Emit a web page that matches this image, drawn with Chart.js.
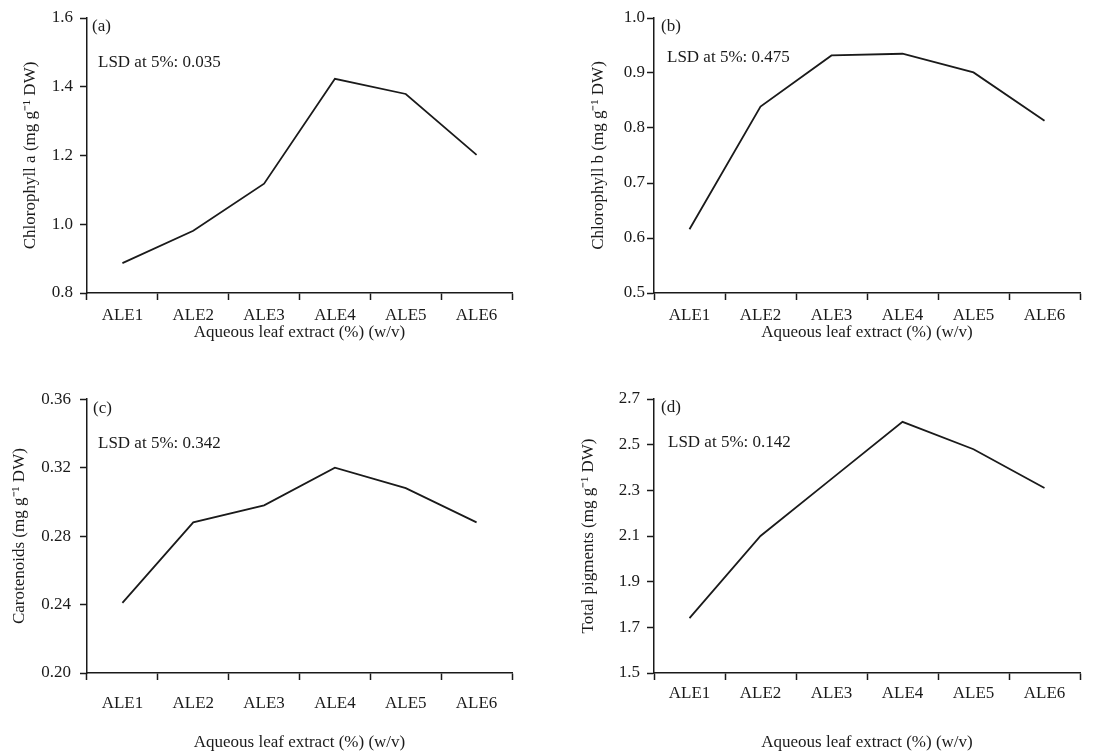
<!DOCTYPE html>
<html lang="en">
<head>
    <meta charset="UTF-8">
    <title>Pigments vs aqueous leaf extract</title>
    <script src="https://cdn.jsdelivr.net/npm/chart.js"></script>
    <style>
        html, body { margin: 0; padding: 0; background: #fff; overflow: hidden; }
        .panel { position: absolute; }
    </style>
</head>
<body>
    <div class="panel" style="left:0;top:0"><canvas id="chartA" width="540" height="355"></canvas></div>
    <div class="panel" style="left:555px;top:0"><canvas id="chartB" width="560" height="355"></canvas></div>
    <div class="panel" style="left:0;top:380px"><canvas id="chartC" width="540" height="373"></canvas></div>
    <div class="panel" style="left:555px;top:380px"><canvas id="chartD" width="560" height="373"></canvas></div>

    <script>
        // data
        const categories = ['ALE1', 'ALE2', 'ALE3', 'ALE4', 'ALE5', 'ALE6'];
        const chlorophyllA = [0.887, 0.981, 1.118, 1.423, 1.379, 1.202];
        const chlorophyllB = [0.616, 0.839, 0.932, 0.935, 0.901, 0.813];
        const carotenoids = [0.241, 0.288, 0.298, 0.320, 0.308, 0.288];
        const totalPigments = [1.74, 2.10, 2.35, 2.60, 2.48, 2.31];

        const xTitle = 'Aqueous leaf extract (%) (w/v)';
        const lsdValues = ['0.035', '0.475', '0.342', '0.142'];

        const serif = '"Liberation Serif", "Times New Roman", Times, serif';
        const black = '#1a1a1a';

        // writes the panel letter and the LSD note inside the plot area
        const panelText = {
            id: 'panelText',
            afterDraw(chart, args, opts) {
                const ctx = chart.ctx;
                const area = chart.chartArea;
                ctx.save();
                ctx.fillStyle = black;
                ctx.font = '17px ' + serif;
                ctx.textAlign = 'left';
                ctx.textBaseline = 'middle';
                ctx.fillText(opts.letter, area.left + opts.letterDx, area.top + opts.letterDy);
                ctx.fillText('LSD at 5%: ' + opts.lsd, area.left + opts.lsdDx, area.top + opts.lsdDy);
                ctx.restore();
            }
        };

        function makePanel(id, cfg) {
            const ctx = document.getElementById(id).getContext('2d');
            return new Chart(ctx, {
                type: 'line',
                data: {
                    labels: categories,
                    datasets: [{
                        data: cfg.values,
                        borderColor: black,
                        borderWidth: 1.8,
                        pointRadius: 0,
                        fill: false,
                        tension: 0
                    }]
                },
                options: {
                    responsive: false,
                    animation: false,
                    layout: { padding: { top: cfg.padTop, right: cfg.padRight, left: 0, bottom: 0 } },
                    plugins: {
                        legend: { display: false },
                        tooltip: { enabled: false },
                        panelText: {
                            letter: cfg.letter,
                            lsd: cfg.lsd,
                            letterDx: cfg.letterDx, letterDy: 9,
                            lsdDx: cfg.lsdDx, lsdDy: cfg.lsdDy
                        }
                    },
                    scales: {
                        x: {
                            offset: true,
                            grid: {
                                offset: true,
                                drawOnChartArea: false,
                                drawTicks: true,
                                tickLength: 7,
                                tickWidth: 1.5,
                                tickColor: black
                            },
                            border: { color: black, width: 1.5 },
                            ticks: {
                                color: black,
                                font: { family: serif, size: 17 },
                                padding: cfg.xTickPad,
                                maxRotation: 0,
                                autoSkip: false
                            },
                            title: {
                                display: true,
                                text: xTitle,
                                color: black,
                                font: { family: serif, size: 17 },
                                padding: { top: 0, bottom: cfg.xTitlePad }
                            },
                            afterFit: (s) => { s.height = cfg.xHeight; }
                        },
                        y: {
                            min: cfg.min,
                            max: cfg.max,
                            grid: {
                                drawOnChartArea: false,
                                drawTicks: true,
                                tickLength: 7,
                                tickWidth: 1.5,
                                tickColor: black
                            },
                            border: { color: black, width: 1.5 },
                            ticks: {
                                stepSize: cfg.step,
                                color: black,
                                font: { family: serif, size: 17 },
                                padding: cfg.yTickPad,
                                callback: (v) => Number(v).toFixed(cfg.decimals)
                            },
                            title: {
                                display: true,
                                text: cfg.yTitle,
                                color: black,
                                font: { family: serif, size: 17 },
                                padding: { top: cfg.yTitlePad, bottom: 0 }
                            },
                            afterFit: (s) => { s.width = cfg.yWidth; }
                        }
                    }
                },
                plugins: [panelText]
            });
        }

        makePanel('chartA', {
            values: chlorophyllA, letter: '(a)', lsd: lsdValues[0],
            yTitle: 'Chlorophyll a (mg g\u207B\u00B9 DW)',
            min: 0.8, max: 1.6, step: 0.2, decimals: 1,
            padTop: 18, padRight: 28, yWidth: 87, xHeight: 62,
            yTickPad: 7, xTickPad: 5, xTitlePad: 12, yTitlePad: 20,
            letterDx: 5, lsdDx: 11, lsdDy: 45
        });
        makePanel('chartB', {
            values: chlorophyllB, letter: '(b)', lsd: lsdValues[1],
            yTitle: 'Chlorophyll b (mg g\u207B\u00B9 DW)',
            min: 0.5, max: 1.0, step: 0.1, decimals: 1,
            padTop: 18, padRight: 35, yWidth: 99, xHeight: 62,
            yTickPad: 2, xTickPad: 5, xTitlePad: 12, yTitlePad: 33,
            letterDx: 7, lsdDx: 13, lsdDy: 40
        });
        makePanel('chartC', {
            values: carotenoids, letter: '(c)', lsd: lsdValues[2],
            yTitle: 'Carotenoids (mg g\u207B\u00B9 DW)',
            min: 0.20, max: 0.36, step: 0.04, decimals: 2,
            padTop: 19, padRight: 28, yWidth: 87, xHeight: 80,
            yTickPad: 9, xTickPad: 13, xTitlePad: 0, yTitlePad: 9,
            letterDx: 6, lsdDx: 11, lsdDy: 44
        });
        makePanel('chartD', {
            values: totalPigments, letter: '(d)', lsd: lsdValues[3],
            yTitle: 'Total pigments (mg g\u207B\u00B9 DW)',
            min: 1.5, max: 2.7, step: 0.2, decimals: 1,
            padTop: 19, padRight: 35, yWidth: 99, xHeight: 80,
            yTickPad: 7, xTickPad: 3, xTitlePad: 0, yTitlePad: 23,
            letterDx: 7, lsdDx: 14, lsdDy: 44
        });
    </script>
</body>
</html>
